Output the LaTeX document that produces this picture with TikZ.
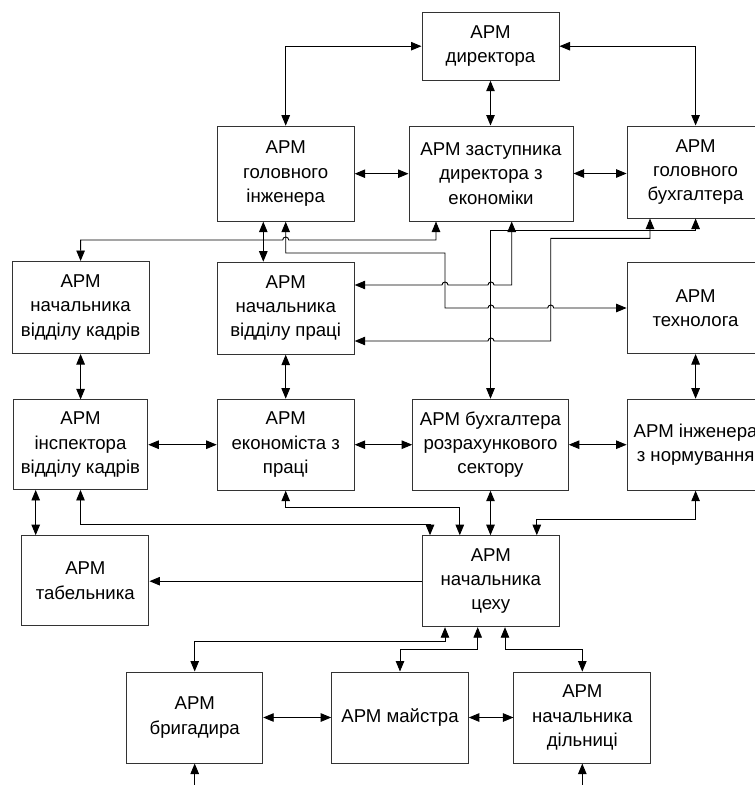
\documentclass[tikz,border=0pt]{standalone}
\usepackage{fontspec}
\setmainfont{Liberation Sans}
\usetikzlibrary{arrows.meta}

% horizontal line segment with a small hop over a crossing wire (drawn left to right)
\newcommand{\hop}[2]{-- ({#1-3},#2) arc[start angle=180,end angle=360,radius=3]}

\begin{document}
\begin{tikzpicture}[x=1pt,y=-1pt,
  box/.style={draw=black!80, line width=1pt, fill=white, align=center, inner sep=0pt,
    font=\fontsize{18.6}{24.3}\selectfont},
  wire/.style={line width=0.9pt, black, line join=miter},
  tip/.tip={Triangle[length=10.5pt,width=8.5pt]},
  both/.style={wire, tip-tip},
  one/.style={wire, -tip}]

\fill[white] (0,0) rectangle (755,785);
\useasboundingbox (0,0) rectangle (755,785);

% boxes of the workstations
\node[box, minimum width=137pt, minimum height=68pt]   (dir)    at (490.5,46.2)  {АРМ\\директора};
\node[box, minimum width=137pt, minimum height=95pt]   (inzh)   at (285.7,173.7) {АРМ\\головного\\інженера};
\node[box, minimum width=164pt, minimum height=95pt]   (zast)   at (491,173.5)   {АРМ заступника\\директора з\\економіки};
\node[box, minimum width=137pt, minimum height=92pt]   (buh)    at (695.6,172)   {АРМ\\головного\\бухгалтера};
\node[box, minimum width=137pt, minimum height=92pt]   (kadriv) at (80.6,307.5)  {АРМ\\начальника\\відділу кадрів};
\node[box, minimum width=137pt, minimum height=92pt]   (pratsi) at (285.7,308.2) {АРМ\\начальника\\відділу праці};
\node[box, minimum width=137pt, minimum height=91pt]   (tehnol) at (695.6,308)   {АРМ\\технолога};
\node[box, minimum width=134.5pt, minimum height=89.5pt] (insp) at (80.5,444.7)  {АРМ\\інспектора\\відділу кадрів};
\node[box, minimum width=137pt, minimum height=91pt]   (ekon)   at (285.7,444.7) {АРМ\\економіста з\\праці};
\node[box, minimum width=155.6pt, minimum height=91pt] (buhrs)  at (490.5,444.7) {АРМ бухгалтера\\розрахункового\\сектору};
\node[box, minimum width=137pt, minimum height=91pt]   (norm)   at (695.6,444.7) {АРМ інженера\\з нормування};
\node[box, minimum width=127.3pt, minimum height=90.3pt] (tabel) at (85.3,580.8) {АРМ\\табельника};
\node[box, minimum width=137pt, minimum height=91pt]   (tsekh)  at (490.8,581.2) {АРМ\\начальника\\цеху};
\node[box, minimum width=136pt, minimum height=91pt]   (bryg)   at (194.7,717.5) {АРМ\\бригадира};
\node[box, minimum width=136.6pt, minimum height=91pt] (maistr) at (400,717.5)   {АРМ майстра};
\node[box, minimum width=136.7pt, minimum height=91pt] (diln)   at (582.3,717.6) {АРМ\\начальника\\дільниці};

% inputs entering from below
\coordinate (inB) at (194.7,785);
\coordinate (inD) at (582.3,785);

% director level
\draw[both] (dir.west) -| (inzh.north);
\draw[both] (dir.south) -- (dir.south |- zast.north);
\draw[both] (dir.east) -| (buh.north);
\draw[both] (inzh.east) -- (inzh.east -| zast.west);
\draw[both] (zast.east) -- (zast.east -| buh.west);
\draw[both] (263.3,0 |- inzh.south) -- (263.3,0 |- pratsi.north);

% crossing wires between the second and third rows
\draw[both] (kadriv.north) -- (80.6,240) \hop{285.7}{240} -- (436,240) -- (436,0 |- zast.south);
\draw[both] (inzh.south) -- (285.7,253) -- (445,253) -- (445,308) \hop{491}{308} \hop{550.7}{308} -- (tehnol.west |- 0,308);
\draw[both] (pratsi.east |- 0,285) \hop{445}{285} \hop{491}{285} -- (511.7,285) -- (511.7,0 |- zast.south);
\draw[both] (pratsi.east |- 0,341) \hop{491}{341} -- (550.7,341) -- (550.7,238.3) -- (650,238.3) -- (650,0 |- buh.south);
\draw[both] (buhrs.north) -- (490.5,230) -- (695.6,230) -- (buh.south);

% vertical links to the third row
\draw[both] (kadriv.south) -- (kadriv.south |- insp.north);
\draw[both] (pratsi.south) -- (ekon.north);
\draw[both] (tehnol.south) -- (norm.north);

% third row
\draw[both] (insp.east) -- (insp.east -| ekon.west);
\draw[both] (ekon.east) -- (ekon.east -| buhrs.west);
\draw[both] (buhrs.east) -- (buhrs.east -| norm.west);

% links to the shop manager
\draw[both] (35.7,0 |- insp.south) -- (35.7,0 |- tabel.north);
\draw[both] (insp.south) -- (80.5,524) -- (430,524) -- (430,0 |- tsekh.north);
\draw[both] (ekon.south) -- (285.7,507.7) -- (459.8,507.7) -- (459.8,0 |- tsekh.north);
\draw[both] (buhrs.south) -- (buhrs.south |- tsekh.north);
\draw[both] (norm.south) -- (695.6,519) -- (536.8,519) -- (536.8,0 |- tsekh.north);
\draw[one]  (tsekh.west) -- (tsekh.west -| tabel.east);

% shop floor level
\draw[both] (445,0 |- tsekh.south) -- (445,641.7) -| (bryg.north);
\draw[both] (477.7,0 |- tsekh.south) -- (477.7,649.3) -| (maistr.north);
\draw[both] (505,0 |- tsekh.south) -- (505,649.3) -| (diln.north);
\draw[both] (bryg.east) -- (bryg.east -| maistr.west);
\draw[both] (maistr.east) -- (maistr.east -| diln.west);
\draw[one] (inB) -- (bryg.south);
\draw[one] (inD) -- (diln.south);
\end{tikzpicture}
\end{document}
